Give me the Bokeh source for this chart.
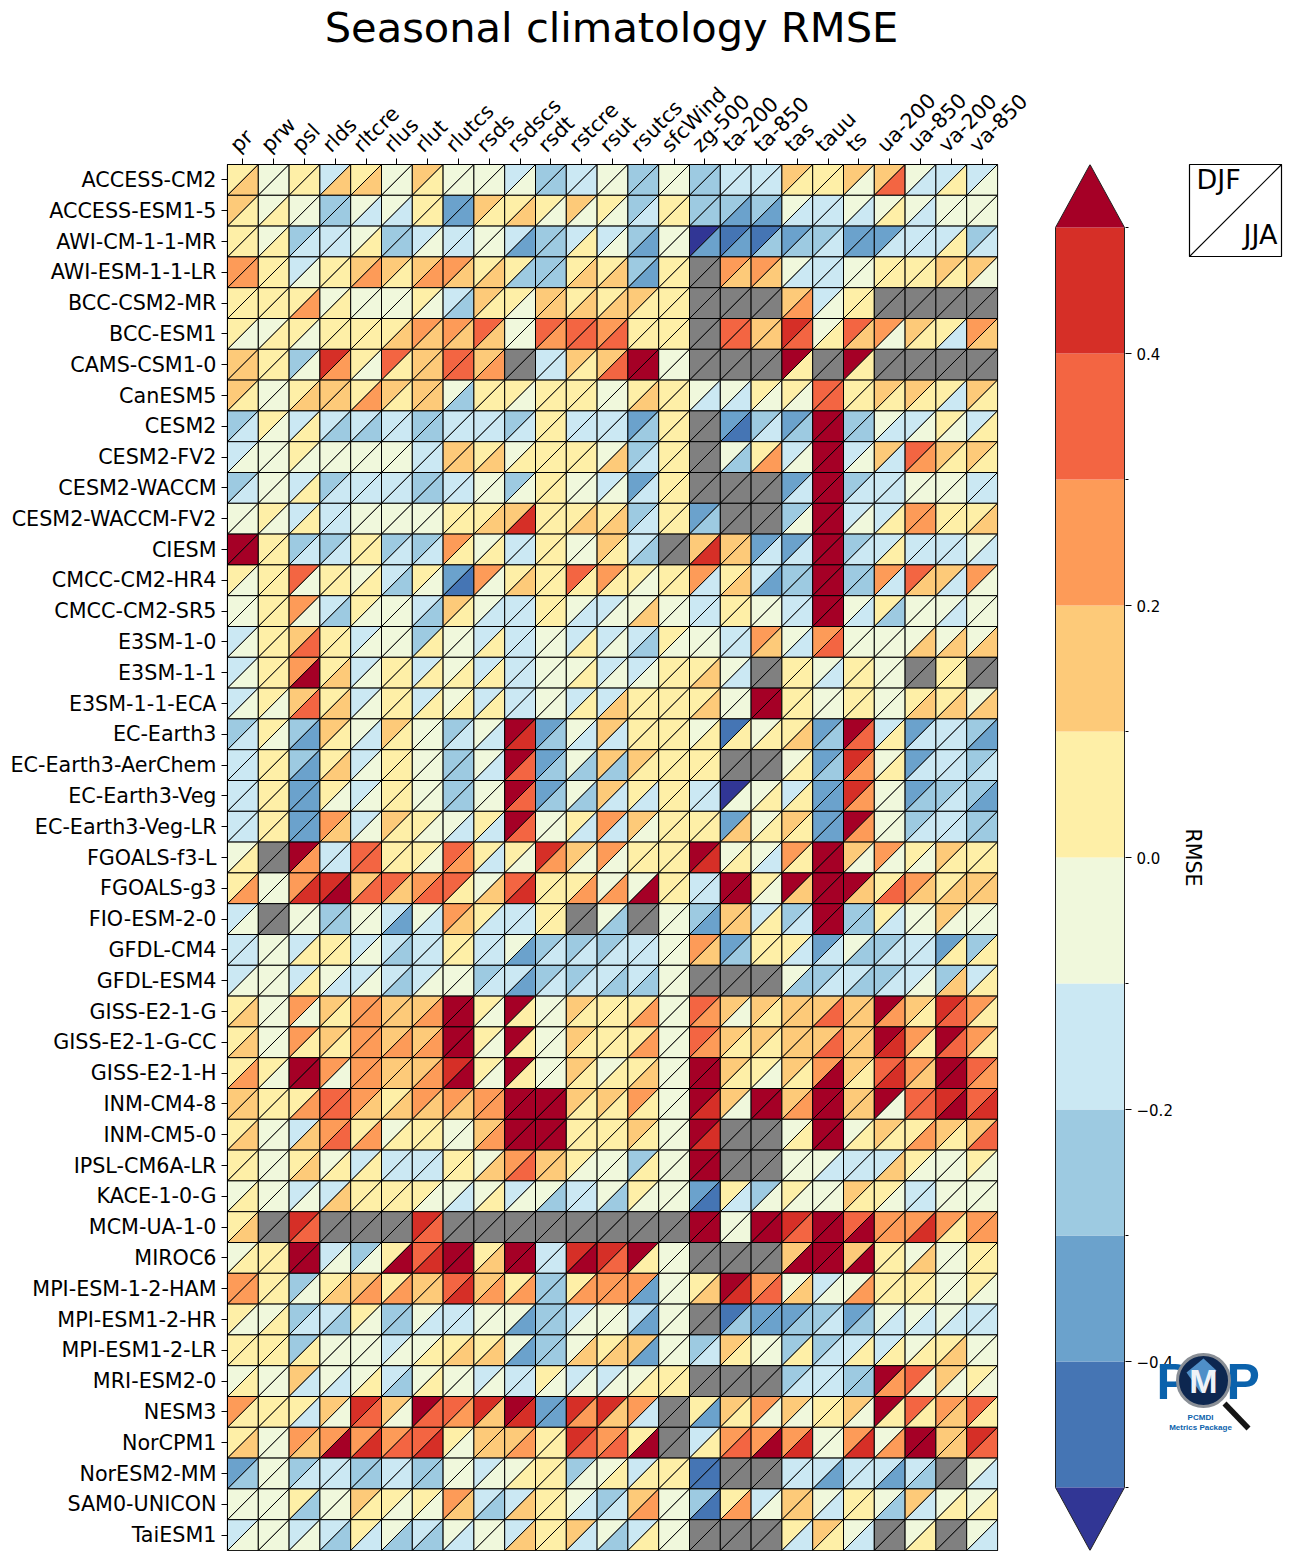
import numpy as np
from bokeh.core.properties import value
from bokeh.embed import file_html
from bokeh.resources import INLINE
from bokeh.layouts import row
from bokeh.models import ColumnDataSource, FixedTicker, LinearAxis, LinearColorMapper, Range1d
from bokeh.plotting import figure

# RMSE band mid-values (the colour bands are 0.1 wide)
a, b, c, d, e, f, g, h, i, j, k, l = (-.55, -.45, -.35, -.25, -.15, -.05,
                                      .05, .15, .25, .35, .45, .55)
x = float("nan")

models = ["ACCESS-CM2", "ACCESS-ESM1-5", "AWI-CM-1-1-MR", "AWI-ESM-1-1-LR", "BCC-CSM2-MR", "BCC-ESM1",
          "CAMS-CSM1-0", "CanESM5", "CESM2", "CESM2-FV2", "CESM2-WACCM", "CESM2-WACCM-FV2", "CIESM",
          "CMCC-CM2-HR4", "CMCC-CM2-SR5", "E3SM-1-0", "E3SM-1-1", "E3SM-1-1-ECA", "EC-Earth3",
          "EC-Earth3-AerChem", "EC-Earth3-Veg", "EC-Earth3-Veg-LR", "FGOALS-f3-L", "FGOALS-g3",
          "FIO-ESM-2-0", "GFDL-CM4", "GFDL-ESM4", "GISS-E2-1-G", "GISS-E2-1-G-CC", "GISS-E2-1-H",
          "INM-CM4-8", "INM-CM5-0", "IPSL-CM6A-LR", "KACE-1-0-G", "MCM-UA-1-0", "MIROC6",
          "MPI-ESM-1-2-HAM", "MPI-ESM1-2-HR", "MPI-ESM1-2-LR", "MRI-ESM2-0", "NESM3", "NorCPM1",
          "NorESM2-MM", "SAM0-UNICON", "TaiESM1"]
variables = ["pr", "prw", "psl", "rlds", "rltcre", "rlus", "rlut", "rlutcs", "rsds", "rsdscs", "rsdt",
             "rstcre", "rsut", "rsutcs", "sfcWind", "zg-500", "ta-200", "ta-850", "tas", "tauu", "ts",
             "ua-200", "ua-850", "va-200", "va-850"]

DJF = [
 [g,f,g,e,g,f,h,f,f,e,d,e,f,d,f,d,e,e,h,g,h,h,f,e,e],
 [h,f,f,d,f,f,g,c,h,g,g,h,g,d,g,d,d,d,f,e,f,f,f,f,f],
 [g,f,d,e,f,d,e,e,f,e,d,e,e,d,f,a,b,b,c,d,c,c,e,e,d],
 [i,g,e,g,h,h,h,i,g,g,d,g,g,d,g,x,i,i,f,e,f,g,g,h,h],
 [g,g,g,f,f,f,g,e,h,g,h,g,g,h,g,x,x,x,h,e,g,x,x,x,x],
 [g,f,g,g,g,g,i,i,j,f,j,j,i,g,g,x,j,h,k,f,j,i,h,g,i],
 [h,g,d,k,g,j,h,j,h,x,e,h,h,l,f,x,x,x,l,x,l,x,x,x,x],
 [h,f,g,h,g,h,h,f,g,g,g,g,f,g,g,f,f,g,g,j,g,h,h,g,h],
 [d,g,e,e,e,e,d,e,e,d,g,e,e,c,g,x,c,d,c,l,d,f,e,g,e],
 [e,f,g,f,f,f,e,h,g,f,g,g,f,d,g,x,f,g,e,l,e,h,j,h,h],
 [d,f,e,d,e,e,d,e,f,d,g,f,e,c,g,x,x,x,c,l,d,e,f,f,e],
 [f,g,e,e,f,f,f,g,g,h,g,g,g,d,g,c,x,x,d,l,e,e,i,g,g],
 [l,g,d,d,g,d,d,i,f,e,g,f,h,e,x,h,h,c,c,l,d,e,e,e,f],
 [g,g,j,g,f,e,g,c,i,g,g,j,i,g,g,i,g,e,d,l,d,i,j,h,i],
 [f,g,i,e,g,f,e,h,f,e,g,f,e,f,f,e,g,f,e,l,f,g,f,f,f],
 [e,g,h,g,e,f,d,f,e,e,f,e,e,e,g,f,e,i,f,i,f,f,f,f,f],
 [e,g,i,g,e,g,e,f,e,e,f,f,e,e,g,g,f,x,g,f,g,f,x,g,x],
 [e,g,h,g,e,g,e,f,e,e,f,e,e,g,g,g,f,l,g,f,g,f,g,g,f],
 [d,g,d,h,f,h,f,d,f,l,c,f,h,g,g,f,b,f,g,c,l,e,c,e,d],
 [e,g,d,g,e,g,f,d,f,l,c,f,h,h,g,g,x,x,f,c,k,f,c,e,d],
 [e,g,c,g,e,g,f,d,f,l,c,f,h,g,g,e,a,f,e,c,k,f,c,d,d],
 [e,g,c,i,e,h,g,f,g,l,f,g,i,h,g,g,c,f,h,c,l,f,d,e,d],
 [f,x,l,e,j,g,g,j,g,g,k,h,i,g,g,l,f,f,i,l,h,i,g,h,g],
 [g,f,i,k,h,j,i,j,f,j,g,g,f,f,g,e,l,g,l,l,l,g,i,g,h],
 [e,x,f,d,f,e,f,i,g,e,g,x,f,x,f,d,h,e,d,l,d,g,f,h,f],
 [e,f,e,g,e,e,e,g,e,f,d,d,d,e,f,i,c,g,g,c,f,d,e,c,d],
 [e,f,e,f,e,e,e,f,d,e,d,d,e,e,f,x,x,x,f,d,e,d,e,d,e],
 [g,f,i,h,i,h,h,l,g,l,f,h,g,g,f,j,h,h,h,h,h,l,h,k,i],
 [g,f,i,h,i,h,h,l,g,l,f,h,g,g,f,j,h,h,h,h,h,l,i,l,i],
 [g,g,l,i,i,h,h,k,g,l,f,h,f,g,f,l,h,g,h,i,h,j,i,l,j],
 [h,g,g,j,i,g,i,i,i,l,l,h,h,i,f,l,h,l,h,l,h,l,j,k,j],
 [g,f,e,i,g,f,g,f,h,l,l,g,g,h,f,l,x,x,f,l,f,h,g,h,h],
 [g,f,g,f,e,e,e,g,f,i,h,g,f,d,f,l,x,x,f,f,e,e,g,f,g],
 [f,f,e,e,g,g,g,f,f,e,f,e,f,g,f,c,g,d,g,f,h,g,e,f,f],
 [g,x,k,x,x,x,k,x,x,x,x,x,x,x,x,l,f,l,k,l,j,i,i,i,i],
 [f,g,l,e,d,g,j,l,g,l,e,k,k,l,f,x,x,x,h,l,h,g,f,f,g],
 [i,g,d,g,h,g,h,j,h,g,d,g,i,i,f,g,l,i,f,e,f,g,g,f,g],
 [g,f,d,e,g,d,f,e,f,f,d,e,f,e,f,x,b,c,c,d,c,f,f,f,e],
 [g,g,d,f,f,e,f,g,g,f,d,f,g,h,f,d,h,f,d,d,e,e,f,g,f],
 [f,f,h,f,f,e,f,f,e,e,g,e,e,f,g,x,x,x,d,e,d,l,j,h,g],
 [i,g,g,h,k,h,l,j,k,l,c,k,k,i,x,g,h,i,h,g,h,l,j,i,j],
 [g,f,i,i,i,i,j,g,h,h,g,k,i,g,x,e,i,i,i,f,i,f,l,h,k],
 [c,f,d,e,d,e,d,f,e,f,g,d,f,e,g,b,x,x,e,e,e,e,e,x,f],
 [f,f,g,f,h,g,g,i,e,e,g,f,d,h,f,d,g,e,h,f,g,f,h,f,f],
 [e,f,e,e,g,f,e,f,f,e,g,h,f,e,f,x,x,x,g,h,f,x,f,x,f],
]
JJA = [
 [h,f,g,h,h,f,g,f,f,f,d,e,f,d,f,d,e,e,g,g,f,j,e,g,f],
 [g,g,f,d,e,e,g,c,g,h,f,f,f,e,g,d,c,c,e,e,e,g,e,f,f],
 [g,g,e,e,g,d,f,e,f,c,d,g,f,c,f,c,c,d,d,e,c,e,e,g,e],
 [i,g,f,g,i,g,i,h,h,d,d,h,h,c,g,x,h,h,e,e,f,g,g,g,f],
 [g,g,i,g,f,f,f,d,g,f,h,h,h,g,g,x,x,x,i,f,g,x,x,x,x],
 [f,g,f,g,g,h,h,h,h,f,i,j,j,g,g,x,j,h,j,g,h,f,g,e,h],
 [h,g,f,i,f,g,h,j,i,x,e,g,j,l,f,x,x,x,g,x,g,x,x,x,x],
 [g,f,h,h,i,g,h,d,g,f,g,g,f,h,g,e,e,f,f,j,g,g,g,e,g],
 [e,f,g,d,d,e,d,e,e,e,g,e,e,d,g,x,b,e,d,l,d,e,f,f,g],
 [f,f,f,f,f,f,e,h,h,g,g,g,h,e,g,x,d,i,f,l,f,e,i,g,g],
 [e,f,g,e,e,e,d,e,f,f,g,f,f,e,g,x,x,x,e,l,e,e,f,f,e],
 [f,f,g,e,f,f,f,g,h,k,g,h,h,e,g,d,x,x,f,l,f,g,i,g,h],
 [l,g,e,e,g,e,e,g,g,e,g,f,g,d,x,k,h,e,e,l,e,g,e,e,e],
 [f,g,f,g,g,d,f,b,f,h,g,g,g,f,g,e,h,c,d,l,d,e,h,e,f],
 [f,g,f,d,f,f,d,g,e,e,g,e,f,h,f,e,g,f,e,l,e,d,f,e,f],
 [f,g,j,g,f,f,g,f,g,e,f,g,f,d,f,f,e,h,e,j,f,f,h,h,h],
 [f,g,l,h,f,g,g,g,g,e,f,g,f,f,g,h,e,x,g,e,g,f,x,g,x],
 [f,f,j,h,f,g,g,g,g,e,f,g,h,g,g,h,f,l,g,f,g,f,h,h,h],
 [e,f,c,g,e,g,f,e,e,k,d,e,e,g,g,g,g,g,h,d,j,g,e,e,c],
 [e,g,c,h,f,g,f,d,e,j,d,d,d,g,g,g,x,x,g,d,i,g,e,e,e],
 [e,g,c,f,f,g,f,d,f,j,d,d,e,e,g,e,f,g,g,c,i,f,d,e,c],
 [e,g,c,h,f,g,f,e,e,j,f,e,e,f,g,g,h,g,g,c,i,f,e,e,d],
 [g,x,i,e,j,g,f,i,e,f,i,f,f,g,g,k,g,e,g,l,f,f,f,g,g],
 [i,f,k,l,j,h,j,g,h,k,g,i,i,l,g,e,l,f,h,l,h,j,h,h,h],
 [f,x,f,d,f,c,e,h,e,e,g,x,d,x,f,c,h,g,e,l,d,e,f,f,f],
 [e,f,g,g,f,d,e,g,e,c,e,e,e,e,f,h,d,g,e,e,d,e,e,g,g],
 [f,f,g,e,f,d,f,f,e,c,e,e,d,d,f,x,x,x,d,e,d,e,f,h,g],
 [h,f,f,g,i,h,i,l,f,g,f,g,g,i,f,i,f,g,h,j,h,i,g,j,g],
 [h,f,g,g,i,i,i,l,f,g,f,g,g,i,f,i,g,g,h,j,h,k,g,j,g],
 [i,f,l,f,i,h,i,l,f,g,f,g,g,h,f,l,g,f,g,l,g,k,h,l,i],
 [h,g,i,j,h,h,h,h,i,l,l,g,g,g,f,k,f,l,i,l,h,f,j,l,k],
 [h,f,h,j,i,g,g,f,i,l,l,g,g,g,f,k,x,x,g,l,g,g,i,g,j],
 [g,f,h,g,g,e,e,g,h,j,h,f,f,g,f,l,x,x,f,e,e,h,f,f,f],
 [g,f,f,h,g,g,f,e,g,f,d,e,d,f,f,b,e,f,f,f,g,f,e,f,f],
 [h,x,j,x,x,x,j,x,x,x,x,x,x,x,x,l,f,l,j,l,l,i,k,g,i],
 [g,g,l,f,f,l,k,l,h,l,e,l,j,g,f,x,x,x,l,l,l,g,h,f,g],
 [i,g,f,h,i,i,h,k,i,i,d,i,i,c,f,h,k,j,h,f,i,g,g,f,f],
 [f,g,e,d,f,d,e,e,f,c,d,f,f,c,f,x,d,c,d,e,d,e,e,e,e],
 [g,g,g,f,f,f,g,h,h,c,d,h,h,c,f,e,g,f,g,e,g,g,g,h,f],
 [g,f,e,e,g,d,g,f,f,e,f,f,f,g,g,x,x,x,e,e,d,i,f,f,f],
 [g,g,e,f,j,f,j,i,h,k,c,i,h,e,x,c,g,f,f,g,f,g,g,h,g],
 [h,f,h,l,k,j,k,f,h,i,g,j,j,l,x,g,j,l,k,f,k,i,l,h,j],
 [d,f,e,e,d,e,d,f,f,g,g,f,g,g,g,b,x,x,e,c,e,c,d,x,e],
 [f,f,d,f,g,f,f,h,d,h,g,e,e,i,f,b,i,f,h,e,g,d,e,g,g],
 [f,f,f,d,e,d,d,e,f,h,g,e,d,g,f,x,x,x,e,g,e,x,g,x,e],
]

band_colors = ["#4575b4", "#6ba2cc", "#9dcae1", "#cbe8f3", "#f0f8dc",
               "#feefa7", "#fdca79", "#fd9b58", "#f36542", "#d62f27"]
under_color, over_color, missing_color = "#313695", "#a50026", "#808080"
levels = [-.5, -.4, -.3, -.2, -.1, 0, .1, .2, .3, .4, .5]
bar_ticks = [-.4, -.2, 0, .2, .4]
bar_tick_labels = ["\u22120.4", "\u22120.2", "0.0", "0.2", "0.4"]
title_text = "Seasonal climatology RMSE"

mapper = LinearColorMapper(palette=band_colors, low=-.5, high=.5, low_color=under_color,
                           high_color=over_color, nan_color=missing_color)

FONT = "DejaVu Sans"
n_rows, n_cols = len(models), len(variables)

# ---------- portfolio plot ----------
p = figure(width=1040, height=1552, output_backend="svg", toolbar_location=None,
           x_range=Range1d(0, n_cols), y_range=Range1d(n_rows, 0), x_axis_location="above",
           min_border_left=227, min_border_right=43, min_border_top=164, min_border_bottom=2)
p.grid.visible = False
p.outline_line_color = "black"
p.outline_line_width = 1.2

xs, ys, vs = [], [], []
for r in range(n_rows):
    for q in range(n_cols):
        xs.append([q, q + 1, q]);         ys.append([r, r, r + 1]);         vs.append(DJF[r][q])
        xs.append([q + 1, q + 1, q]);     ys.append([r, r + 1, r + 1]);     vs.append(JJA[r][q])
p.patches("xs", "ys", source=ColumnDataSource(dict(xs=xs, ys=ys, v=vs)),
          fill_color={"field": "v", "transform": mapper}, line_color="black", line_width=1)

col_centers = [n + .5 for n in range(n_cols)]
row_centers = [n + .5 for n in range(n_rows)]

for ax in (p.xaxis[0], p.yaxis[0]):
    ax.major_label_text_font = FONT
    ax.major_label_text_font_size = "20.7px"
    ax.major_label_text_color = "black"
    ax.major_tick_line_color = "black"
    ax.major_tick_out = 6
    ax.major_tick_in = 0
    ax.minor_tick_line_color = None
    ax.axis_line_color = "black"
p.yaxis[0].ticker = FixedTicker(ticks=row_centers)
p.yaxis[0].major_label_overrides = dict(zip(row_centers, models))
p.yaxis[0].major_label_standoff = 5

# tick marks on the frame; the rotated names on a second axis, nudged left like the reference
p.xaxis[0].ticker = FixedTicker(ticks=col_centers)
p.xaxis[0].major_label_text_font_size = "0px"
p.xaxis[0].major_label_standoff = 0
p.xaxis[0].major_label_overrides = {v: "" for v in col_centers}

NUDGE = 9 / 30.8
p.extra_x_ranges["names"] = Range1d(NUDGE, n_cols + NUDGE)
names = LinearAxis(x_range_name="names", ticker=FixedTicker(ticks=col_centers),
                   major_label_overrides=dict(zip(col_centers, variables)),
                   major_label_orientation=np.pi / 4, major_label_standoff=10,
                   major_label_text_font=FONT, major_label_text_font_size="20.7px",
                   major_label_text_color="black", axis_line_color=None,
                   major_tick_line_color=None, minor_tick_line_color=None,
                   major_tick_out=0, major_tick_in=0)
p.add_layout(names, "above")

# ---------- colour bar (x in page pixels, y in RMSE) ----------
BAR_L, BAR_R = 1055, 1124
MID = (BAR_L + BAR_R) / 2
cb = figure(width=243, height=1552, output_backend="svg", toolbar_location=None,
            x_range=Range1d(BAR_L - 1, BAR_R + 1), y_range=Range1d(-.55, .55),
            y_axis_location="right", min_border_left=14, min_border_right=158,
            min_border_top=164, min_border_bottom=2)
cb.grid.visible = False
cb.outline_line_color = None
cb.xaxis.visible = False

cb.quad(left=BAR_L, right=BAR_R, bottom=levels[:-1], top=levels[1:],
        fill_color=band_colors, line_color=None)
cb.patch([BAR_L, BAR_R, MID], [.5, .5, .55], fill_color=over_color, line_color=None)
cb.patch([BAR_L, BAR_R, MID], [-.5, -.5, -.55], fill_color=under_color, line_color=None)
cb.line([BAR_L, MID, BAR_R, BAR_R, MID, BAR_L, BAR_L],
        [.5, .55, .5, -.5, -.55, -.5, .5], line_color="#222222", line_width=1)

ya = cb.yaxis[0]
ya.ticker = FixedTicker(ticks=bar_ticks, minor_ticks=[-.5, -.3, -.1, .1, .3, .5])
ya.major_label_overrides = dict(zip(bar_ticks, bar_tick_labels))
ya.major_label_text_font = FONT
ya.major_label_text_font_size = "15px"
ya.major_label_text_color = "black"
ya.major_label_standoff = 5
ya.axis_line_color = None
ya.major_tick_in = 0
ya.major_tick_out = 6
ya.minor_tick_in = 0
ya.minor_tick_out = 3
ya.major_tick_line_color = "black"
ya.minor_tick_line_color = "black"
ya.axis_label = "RMSE"
ya.axis_label_text_font = FONT
ya.axis_label_text_font_style = "normal"
ya.axis_label_text_font_size = "20.6px"
ya.axis_label_text_color = "black"
ya.axis_label_standoff = 5

# ---------- title, key and logo: a transparent page-sized figure laid over the others ----------
o = figure(width=1291, height=1552, output_backend="svg", toolbar_location=None,
           x_range=Range1d(0, 1291), y_range=Range1d(1552, 0), frame_align=False,
           min_border=0, margin=(0, 0, 0, -1283),
           background_fill_color=None, border_fill_color=None, outline_line_color=None)
o.axis.visible = False
o.grid.visible = False


def txt(px, py, s, size, color="black", align="left", style="normal", font=FONT):
    o.text([px], [py], text=[s], text_font=value(font), text_font_size=value(size), text_color=color,
           text_align=align, text_baseline="alphabetic", text_font_style=style)


txt(611, 27, title_text, "41.6px", align="center")

# DJF / JJA key
o.patch([1189, 1281, 1281, 1189], [164, 164, 256, 256], fill_color="white", line_color="black", line_width=1.2)
o.line([1189, 1281], [256, 164], line_color="black", line_width=1.2)
txt(1196, 179, "DJF", "27px")
txt(1277, 234, "JJA", "27px", align="right")

# PMP logo
BLUE = "#0b62ac"
txt(1156, 1381, "P", "50px", BLUE, style="bold", font="Liberation Sans")
txt(1226, 1381, "P", "50px", BLUE, style="bold", font="Liberation Sans")
o.patch([1222, 1226, 1250, 1246], [1405, 1401, 1426, 1430], fill_color="#151515", line_color=None)
o.scatter([1203], [1380], size=52, marker="circle", fill_color="#0d2750", line_color="#8a8f96", line_width=3)
o.patch([1186, 1203, 1216, 1200], [1372, 1358, 1370, 1392], fill_color="#4f8fc8", line_color=None)
txt(1203, 1380, "M", "34px", "#eef2f7", "center", "bold", "Liberation Sans")
txt(1200, 1417, "PCMDI", "8px", BLUE, "center", "bold", "Liberation Sans")
txt(1200, 1427, "Metrics Package", "8px", BLUE, "center", "bold", "Liberation Sans")

open("out.html", "w").write(file_html(row(p, cb, o, spacing=0), INLINE))
